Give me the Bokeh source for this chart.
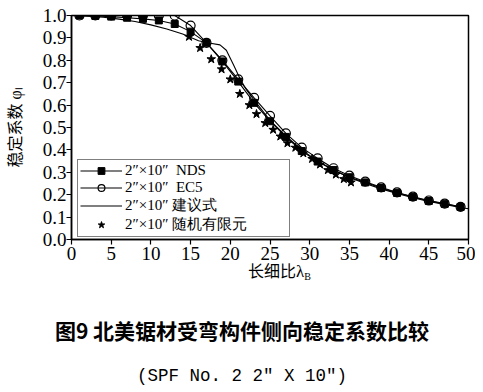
from bokeh.plotting import figure
from bokeh.models import Range1d, Legend, LegendItem, FixedTicker, Div, CustomJSTickFormatter
from bokeh.layouts import column
from bokeh.embed import file_html
from bokeh.resources import INLINE

# ---- data ----
lam_odd = [1, 3, 5, 7, 9, 11, 13, 15, 17, 19, 21, 23, 25, 27, 29, 31, 33, 35, 37, 39, 41, 43, 45, 47, 49]
nds = [1.0, 0.998, 0.995, 0.99, 0.985, 0.978, 0.962, 0.928, 0.878, 0.795, 0.705, 0.61, 0.528, 0.458,
       0.395, 0.348, 0.31, 0.278, 0.255, 0.23, 0.208, 0.19, 0.172, 0.159, 0.145]
ec5 = [1.0, 1.0, 1.0, 1.0, 1.0, 1.0, 1.0, 0.955, 0.878, 0.80, 0.715, 0.632, 0.552, 0.474,
       0.41, 0.362, 0.318, 0.285, 0.258, 0.233, 0.21, 0.191, 0.174, 0.16, 0.146]

lam_prop = [0, 2, 4, 6, 8, 10, 12, 14, 16, 17.5, 18.7, 19.5, 20.4, 21.2, 22, 23, 25, 27, 29, 31,
            33, 35, 37, 39, 41, 43, 45, 47, 49, 50]
prop = [1.0, 0.997, 0.992, 0.984, 0.973, 0.958, 0.94, 0.917, 0.887, 0.876, 0.869, 0.845, 0.78, 0.72,
        0.67, 0.622, 0.532, 0.462, 0.4, 0.35, 0.31, 0.277, 0.25, 0.226, 0.205, 0.186, 0.17, 0.156,
        0.143, 0.137]

lam_fe = [14.8, 16.2, 17.6, 18.9, 20.0, 21.2, 22.4, 23.3, 24.4, 25.4, 26.3, 27.2, 28.2, 29.2,
          30.3, 31.3, 32.3, 33.3, 34.3, 35.2]
fe = [0.905, 0.855, 0.805, 0.76, 0.715, 0.65, 0.60, 0.56, 0.52, 0.49, 0.46, 0.43, 0.41, 0.385,
      0.36, 0.335, 0.31, 0.29, 0.27, 0.255]

x_ticks = [0, 5, 10, 15, 20, 25, 30, 35, 40, 45, 50]
y_ticks = [0.0, 0.1, 0.2, 0.3, 0.4, 0.5, 0.6, 0.7, 0.8, 0.9, 1.0]

labels = ["2\u2033\u00d710\u2033\u00a0\u00a0NDS", "2\u2033\u00d710\u2033\u00a0\u00a0EC5",
          "2\u2033\u00d710\u2033 建议式", "2\u2033\u00d710\u2033 随机有限元"]
x_label = "长细比"
x_sym = "λ"
x_sub = "B"
y_label = "稳定系数 φₗ"
caption1 = "图9 北美锯材受弯构件侧向稳定系数比较"
caption2 = "(SPF No. 2 2\u2033 X 10\u2033)"

SERIF = "Liberation Serif, Noto Sans CJK SC"

W = 475
H_TOTAL = 392
H_FIG = 262

p = figure(width=W, height=H_FIG, output_backend="svg", toolbar_location=None,
           x_range=Range1d(0, 50), y_range=Range1d(0, 1.0),
           min_border_left=71, min_border_right=7, min_border_top=15, min_border_bottom=H_FIG - 239)
p.background_fill_color = "white"
p.border_fill_color = "white"
p.outline_line_color = "black"
p.outline_line_width = 1.5
p.xgrid.visible = False
p.ygrid.visible = False

for ax in (p.xaxis[0], p.yaxis[0]):
    ax.axis_line_color = "black"
    ax.axis_line_width = 1.5
    ax.major_tick_line_color = "black"
    ax.major_tick_line_width = 1.2
    ax.major_tick_out = 5
    ax.major_tick_in = 0
    ax.minor_tick_line_color = None
    ax.major_label_text_font = "Liberation Serif"
    ax.major_label_text_font_size = "19px"
    ax.major_label_text_color = "black"

p.xaxis.major_label_standoff = 2
p.yaxis.major_label_standoff = 0
p.xaxis.ticker = FixedTicker(ticks=x_ticks)
p.yaxis.ticker = FixedTicker(ticks=y_ticks)
p.yaxis.formatter = CustomJSTickFormatter(code="return tick.toFixed(1);")

p.yaxis.axis_label = y_label
p.yaxis.axis_label_text_font = SERIF
p.yaxis.axis_label_text_font_size = "16px"
p.yaxis.axis_label_text_font_style = "normal"
p.yaxis.axis_label_text_color = "black"
p.yaxis.axis_label_standoff = 16

# series
r_prop = p.line(lam_prop, prop, line_color="black", line_width=1.1)
r_nds_l = p.line(lam_odd, nds, line_color="black", line_width=1.1)
r_nds_m = p.scatter(lam_odd, nds, marker="square", size=7, fill_color="black", line_color="black")
r_ec5_l = p.line(lam_odd, ec5, line_color="black", line_width=1.1)
r_ec5_m = p.scatter(lam_odd, ec5, marker="circle", size=9, fill_alpha=0, line_color="black", line_width=1.2)
r_fe = p.scatter(lam_fe, fe, marker="star", size=9, fill_color="black", line_color="black")

legend = Legend(items=[
    LegendItem(label=labels[0], renderers=[r_nds_l, r_nds_m]),
    LegendItem(label=labels[1], renderers=[r_ec5_l, r_ec5_m]),
    LegendItem(label=labels[2], renderers=[r_prop]),
    LegendItem(label=labels[3], renderers=[r_fe]),
], location=(6, 2))
legend.label_text_font = "Liberation Serif"
legend.label_text_font_size = "15px"
legend.label_text_color = "black"
legend.glyph_width = 42
legend.glyph_height = 17
legend.label_height = 17
legend.label_width = 162
legend.label_standoff = 3
legend.spacing = 0
legend.padding = 2
legend.margin = 0
legend.border_line_color = "black"
legend.border_line_width = 1.2
legend.background_fill_color = "white"
legend.background_fill_alpha = 1
p.add_layout(legend, "center")

H_DIV = H_TOTAL - H_FIG
html = (
    f'<div style="position:relative;width:{W}px;height:{H_DIV}px;color:#000;">'
    f'<span style="position:absolute;left:248px;top:0px;white-space:nowrap;line-height:1;'
    f'font-family:\'Noto Sans CJK SC\';font-size:16px;">{x_label}'
    f'<span style="font-family:\'Liberation Serif\';font-size:17px;">{x_sym}</span>'
    f'<span style="font-family:\'Liberation Serif\';font-size:10px;position:relative;top:3px;">{x_sub}</span></span>'
    f'<div style="position:absolute;left:0px;width:484px;top:58px;text-align:center;white-space:nowrap;'
    f'line-height:1;font-family:\'Noto Sans CJK SC\';font-weight:bold;font-size:21px;">{caption1}</div>'
    f'<div style="position:absolute;left:0px;width:484px;top:106px;text-align:center;white-space:pre;'
    f'line-height:1;font-family:\'Liberation Mono\',\'DejaVu Sans Mono\';font-size:17.5px;">{caption2}</div>'
    f'</div>'
)
div = Div(text=html, width=W, height=H_DIV, margin=0)

layout = column(p, div, spacing=0)
open("out.html", "w").write(file_html(layout, INLINE))
